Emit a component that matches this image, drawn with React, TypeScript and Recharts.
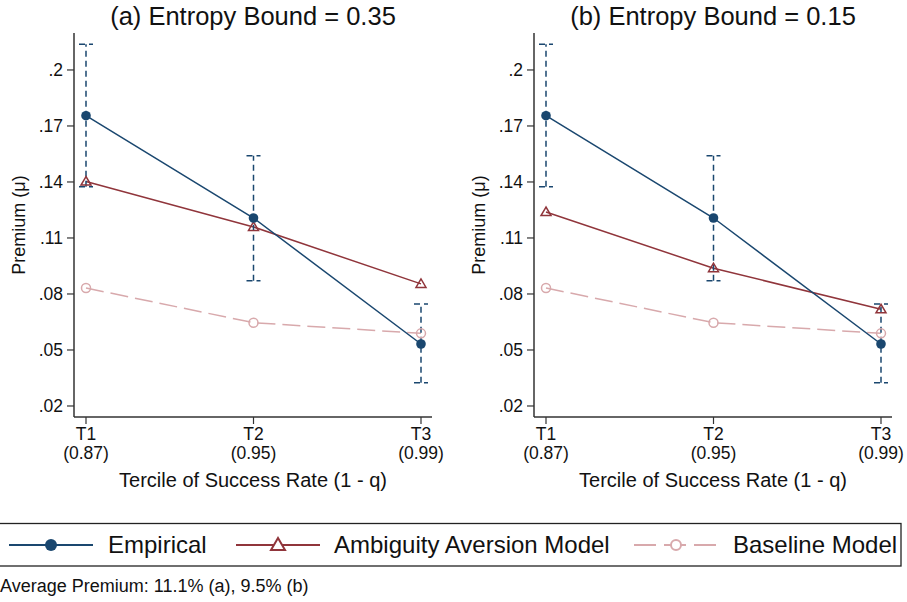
import { LineChart, Line, XAxis, YAxis, ErrorBar, Label } from "recharts";

const terciles = ["T1", "T2", "T3"];
const rateLabels = ["(0.87)", "(0.95)", "(0.99)"];
const empirical = [0.1755, 0.1207, 0.0532];
const empiricalLow = [0.1375, 0.0871, 0.0325];
const empiricalHigh = [0.2138, 0.1541, 0.0746];
const ambiguityA = [0.1402, 0.1159, 0.0854];
const ambiguityB = [0.1239, 0.0938, 0.0718];
const baseline = [0.0832, 0.0646, 0.0589];
const yTicks = [0.02, 0.05, 0.08, 0.11, 0.14, 0.17, 0.2];

const NAVY = "#1a476f";
const MAROON = "#90353b";
const PINK = "#d8a9ac";
const FRAME = "#333";
const FONT = '"Liberation Sans", Arial, sans-serif';

const fmtY = (v: number) => String(Number(v.toFixed(2))).replace(/^0/, "");

const rows = (amb: number[]) =>
  terciles.map((t, i) => ({
    name: t,
    empirical: empirical[i],
    err: [empirical[i] - empiricalLow[i], empiricalHigh[i] - empirical[i]],
    ambiguity: amb[i],
    baseline: baseline[i],
  }));

const XTick = (props: any) => {
  const { x, y, payload } = props;
  const i = terciles.indexOf(payload.value);
  return (
    <g>
      <text x={x} y={y} dy={13.5} textAnchor="middle" fontSize={17.5} fill="#111" fontFamily={FONT}>
        {payload.value}
      </text>
      <text x={x} y={y} dy={33} textAnchor="middle" fontSize={17.5} fill="#111" fontFamily={FONT}>
        {rateLabels[i]}
      </text>
    </g>
  );
};

const Panel = ({ amb, left }: { amb: number[]; left: number }) => (
  <div style={{ position: "absolute", left, top: 0 }}>
    <LineChart width={450} height={500} data={rows(amb)} margin={{ top: 33, right: 18, bottom: 0, left: 0 }}>
      <XAxis
        dataKey="name"
        height={83}
        padding={{ left: 12, right: 11 }}
        tickSize={7}
        tickLine={{ stroke: FRAME, strokeWidth: 1.2 }}
        axisLine={{ stroke: FRAME, strokeWidth: 1.5 }}
        tick={<XTick />}
        interval={0}
      >
        <Label
          content={(p: any) => (
            <text x={p.viewBox.x + p.viewBox.width / 2} y={487} textAnchor="middle" fontSize={20} fill="#111" fontFamily={FONT}>
              Tercile of Success Rate (1 - q)
            </text>
          )}
        />
      </XAxis>
      <XAxis xAxisId="top" dataKey="name" orientation="top" height={0} tick={false} tickLine={false} axisLine={{ stroke: FRAME, strokeWidth: 1.5 }} />
      <YAxis
        width={74}
        type="number"
        domain={[0.0141, 0.2198]}
        ticks={yTicks}
        tickFormatter={fmtY}
        tickSize={7}
        tickMargin={4}
        tickLine={{ stroke: FRAME, strokeWidth: 1.2 }}
        axisLine={{ stroke: FRAME, strokeWidth: 1.5 }}
        tick={{ fontSize: 17.5, fill: "#111", fontFamily: FONT }}
        allowDataOverflow
      >
        <Label
          content={(p: any) => {
            const cy = p.viewBox.y + p.viewBox.height / 2;
            return (
              <text x={25} y={cy} transform={`rotate(-90 25 ${cy})`} textAnchor="middle" fontSize={18} fill="#111" fontFamily={FONT}>
                Premium (μ)
              </text>
            );
          }}
        />
      </YAxis>
      <YAxis
        yAxisId="right"
        orientation="right"
        width={0}
        type="number"
        domain={[0.0141, 0.2198]}
        tick={false}
        tickLine={false}
        axisLine={{ stroke: FRAME, strokeWidth: 1.5 }}
      />
      <Line
        dataKey="baseline"
        type="linear"
        stroke={PINK}
        strokeWidth={1.5}
        strokeDasharray="18 7"
        isAnimationActive={false}
        activeDot={false}
        dot={(p: any) => <circle key={`b${p.index}`} cx={p.cx} cy={p.cy} r={4.5} fill="none" stroke={PINK} strokeWidth={1.5} />}
      />
      <Line
        dataKey="ambiguity"
        type="linear"
        stroke={MAROON}
        strokeWidth={1.5}
        isAnimationActive={false}
        activeDot={false}
        dot={(p: any) => (
          <polygon
            key={`a${p.index}`}
            points={`${p.cx},${p.cy - 5} ${p.cx - 5},${p.cy + 3.5} ${p.cx + 5},${p.cy + 3.5}`}
            fill="none"
            stroke={MAROON}
            strokeWidth={1.5}
          />
        )}
      />
      <Line
        dataKey="empirical"
        type="linear"
        stroke={NAVY}
        strokeWidth={1.5}
        isAnimationActive={false}
        activeDot={false}
        dot={(p: any) => <circle key={`e${p.index}`} cx={p.cx} cy={p.cy} r={4.8} fill={NAVY} stroke="none" />}
      >
        <ErrorBar dataKey="err" direction="y" width={7} stroke={NAVY} strokeWidth={1.5} strokeDasharray="6 4" />
      </Line>
    </LineChart>
  </div>
);

export default function App() {
  return (
    <div style={{ position: "absolute", left: 0, top: 0, width: 907, height: 602, background: "#fff", overflow: "hidden", fontFamily: FONT }}>
      <Panel amb={ambiguityA} left={0} />
      <Panel amb={ambiguityB} left={460} />
      <svg width={907} height={602} style={{ position: "absolute", left: 0, top: 0, pointerEvents: "none" }} fontFamily={FONT}>
        <text x={253} y={25} textAnchor="middle" fontSize={25.5} fill="#111">(a) Entropy Bound = 0.35</text>
        <text x={713} y={25} textAnchor="middle" fontSize={25.5} fill="#111">(b) Entropy Bound = 0.15</text>
        <rect x={-1} y={523.5} width={902} height={42.5} fill="none" stroke="#222" strokeWidth={1.3} />
        <line x1={9} x2={93} y1={545} y2={545} stroke={NAVY} strokeWidth={2} />
        <circle cx={51} cy={545} r={6} fill={NAVY} />
        <text x={108} y={553} fontSize={24} fill="#111">Empirical</text>
        <line x1={236} x2={320} y1={545} y2={545} stroke={MAROON} strokeWidth={2} />
        <polygon points="278,538 271,550 285,550" fill="#fff" stroke={MAROON} strokeWidth={2} />
        <text x={334} y={553} fontSize={24} fill="#111">Ambiguity Aversion Model</text>
        <line x1={634} x2={718} y1={545} y2={545} stroke={PINK} strokeWidth={2} strokeDasharray="22 8" />
        <circle cx={676} cy={545} r={5} fill="#fff" stroke={PINK} strokeWidth={2} />
        <text x={733} y={553} fontSize={24} fill="#111">Baseline Model</text>
        <text x={0} y={592} fontSize={18} fill="#111">Average Premium: 11.1% (a), 9.5% (b)</text>
      </svg>
    </div>
  );
}
